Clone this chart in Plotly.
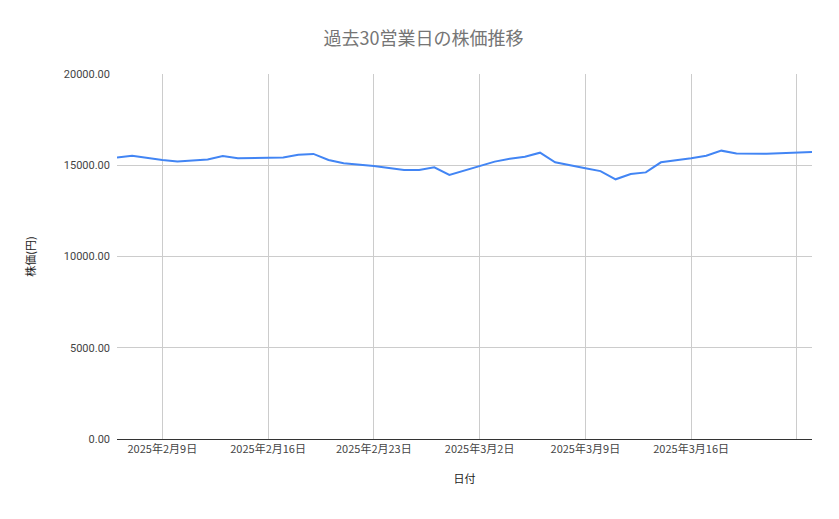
import plotly.graph_objects as go

dates = ["2025-02-06","2025-02-07","2025-02-09","2025-02-10","2025-02-12","2025-02-13","2025-02-14",
         "2025-02-17","2025-02-18","2025-02-19","2025-02-20","2025-02-21","2025-02-23","2025-02-25",
         "2025-02-26","2025-02-27","2025-02-28","2025-03-02","2025-03-03","2025-03-04","2025-03-05",
         "2025-03-06","2025-03-07","2025-03-09","2025-03-10","2025-03-11","2025-03-12","2025-03-13",
         "2025-03-14","2025-03-16","2025-03-17","2025-03-18","2025-03-19","2025-03-21","2025-03-24"]
prices = [15430,15520,15290,15200,15320,15510,15380,15430,15580,15620,15290,15110,14960,14740,
          14740,14890,14470,14960,15200,15360,15470,15690,15160,14830,14680,14230,14520,14610,
          15160,15380,15520,15800,15650,15630,15730]
tick_vals = ["2025-02-09","2025-02-16","2025-02-23","2025-03-02","2025-03-09","2025-03-16","2025-03-23"]
tick_text = ["2025年2月9日","2025年2月16日","2025年2月23日","2025年3月2日","2025年3月9日","2025年3月16日",""]
y_ticks = [0,5000,10000,15000,20000]

fig = go.Figure(go.Scatter(x=dates, y=prices, mode="lines", line=dict(color="#4285f4", width=2)))
fig.update_layout(
    width=831, height=511, plot_bgcolor="white", paper_bgcolor="white",
    margin=dict(l=109, r=27, t=66, b=80),
    font=dict(family="Roboto", color="#444"),
    title=dict(text="過去30営業日の株価推移", x=0.5, xanchor="center", y=0.94, yanchor="middle",
               font=dict(size=18, color="#757575", family="Noto Sans CJK JP")),
    showlegend=False,
)
fig.update_xaxes(range=["2025-02-06","2025-03-24"], tickvals=tick_vals, ticktext=tick_text,
                 showgrid=True, gridcolor="#cccccc", tickfont=dict(size=11, color="#444", family="Noto Sans CJK JP"),
                 showline=True, linecolor="#333", linewidth=1,
                 title=dict(text="日付", font=dict(size=11, family="Noto Sans CJK JP", color="#222"), standoff=20))
fig.update_yaxes(range=[0,20000], tickvals=y_ticks, tickformat=".2f", showgrid=True, gridcolor="#cccccc",
                 zeroline=False, tickfont=dict(size=11, color="#444"), ticks="", ticklabelstandoff=6,
                 title=dict(text="株価(円)", font=dict(size=11, family="Noto Sans CJK JP", color="#222"), standoff=25))
fig.write_html("out.html")
